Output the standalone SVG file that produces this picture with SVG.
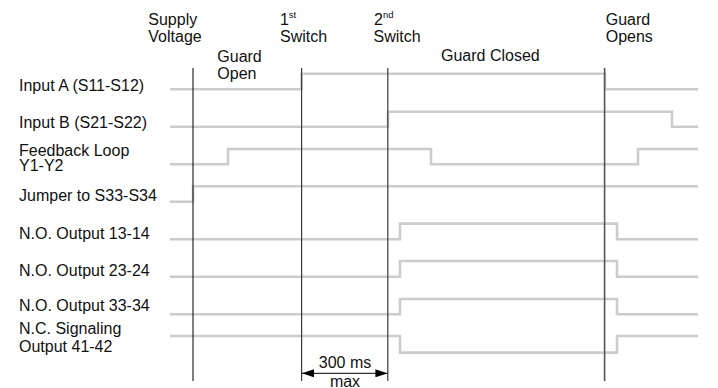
<svg xmlns="http://www.w3.org/2000/svg" width="718" height="388" viewBox="0 0 718 388">
<defs>
<style>
text{font-family:"Liberation Sans",Arial,Helvetica,sans-serif;font-size:16px;fill:#111}
.sup{font-size:9.5px}
.sig{fill:none;stroke:#cccccc;stroke-width:2.6;stroke-linejoin:miter}
.ev{stroke:#3a3a3a;stroke-width:1.2}
.ev0{stroke:#000;stroke-width:1}
.dim{stroke:#000;stroke-width:1}
</style>
<marker id="ah" viewBox="0 0 12 8" refX="12" refY="4" markerWidth="12" markerHeight="8" markerUnits="userSpaceOnUse" orient="auto-start-reverse">
<path d="M0,0 L12,4 L0,8 Z" fill="#000"/>
</marker>
</defs>
<rect width="718" height="388" fill="#fff"/>

<g id="events">
<text x="148.3" y="25">Supply</text>
<text x="148.3" y="41.7">Voltage</text>
<text x="217.3" y="61.7">Guard</text>
<text x="217.3" y="79.2">Open</text>
<text x="280" y="25">1</text><text class="sup" x="288.8" y="17.8">st</text>
<text x="280" y="41.7">Switch</text>
<text x="374" y="25">2</text><text class="sup" x="383" y="17.8">nd</text>
<text x="373.5" y="41.7">Switch</text>
<text x="441" y="60.7">Guard Closed</text>
<text x="605.7" y="25">Guard</text>
<text x="605.7" y="41.7">Opens</text>
</g>

<g id="labels">
<text x="19" y="91">Input A (S11-S12)</text>
<text x="19" y="127.8">Input B (S21-S22)</text>
<text x="19" y="155.5">Feedback Loop</text>
<text x="19" y="171.3">Y1-Y2</text>
<text x="19" y="201.3">Jumper to S33-S34</text>
<text x="19" y="239.3">N.O. Output 13-14</text>
<text x="19" y="276.4">N.O. Output 23-24</text>
<text x="19" y="310.7">N.O. Output 33-34</text>
<text x="19" y="333.6">N.C. Signaling</text>
<text x="19" y="352">Output 41-42</text>
</g>

<g id="signals">
<path id="input-a" class="sig" d="M170,89.3 H301.5 V73.8 H605 V89.3 H698"/>
<path id="input-b" class="sig" d="M170,126.7 H388 V111.7 H672 V126.7 H698"/>
<path id="feedback" class="sig" d="M170,164.3 H228 V149 H431 V164.3 H638 V149 H698"/>
<path id="jumper" class="sig" d="M170,201.7 H193 V186.3 H698"/>
<path id="no-13-14" class="sig" d="M170,239.3 H400 V223.6 H617 V239.3 H698"/>
<path id="no-23-24" class="sig" d="M170,276.7 H400 V261 H617 V276.7 H698"/>
<path id="no-33-34" class="sig" d="M170,314.3 H400 V299 H617 V314.3 H698"/>
<path id="nc-41-42" class="sig" d="M170,336 H400 V352.6 H617 V336 H698"/>
</g>

<g id="connectors">
<line class="ev0" x1="193" y1="68" x2="193" y2="381"/>
<line class="ev" x1="301.6" y1="68" x2="301.6" y2="381"/>
<line class="ev" x1="387.8" y1="68" x2="387.8" y2="381"/>
<line class="ev" x1="604.6" y1="68" x2="604.6" y2="381" style="stroke-width:1.6;stroke:#555"/>
<line class="dim" x1="302" y1="373.3" x2="387.4" y2="373.3" marker-start="url(#ah)" marker-end="url(#ah)"/>
</g>

<g id="dimension">
<text x="345" y="368.3" text-anchor="middle">300 ms</text>
<text x="345" y="386.5" text-anchor="middle">max</text>
</g>
</svg>
